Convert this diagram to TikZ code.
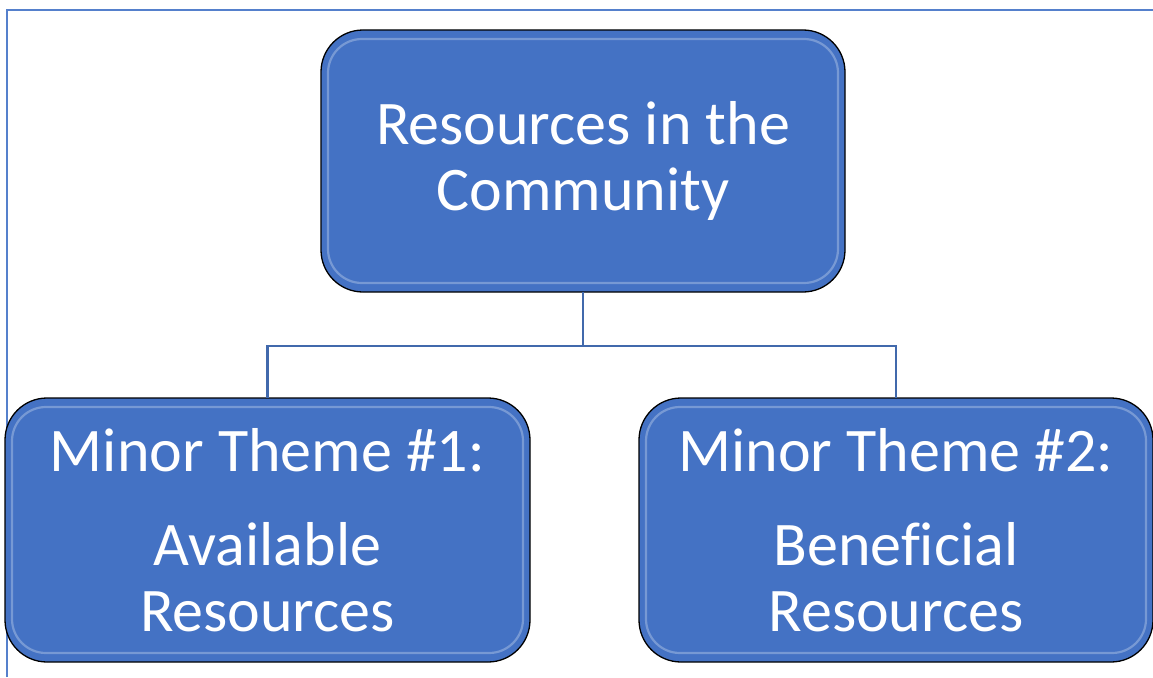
\documentclass[tikz,border=0pt]{standalone}
\usepackage{fontspec}
\setmainfont{Carlito}[Ligatures=NoCommon]
\usetikzlibrary{calc}
\definecolor{boxblue}{HTML}{4472C4}
\definecolor{linkblue}{HTML}{4169AC}
\definecolor{frameblue}{HTML}{5580CC}
\begin{document}
\begin{tikzpicture}
    [
        x=1pt, y=-1pt,
        theme/.style={rectangle, rounded corners=42pt, draw=black, line width=1.3pt,
            fill=boxblue, text=white, align=center, inner sep=0pt, outer sep=0pt,
            font=\fontsize{62}{66}\selectfont},
        glint/.style={draw=white!55!boxblue, line width=2.2pt, rounded corners=34pt, opacity=0.5},
        link/.style={draw=linkblue, line width=2.2pt,},
    ]
    \useasboundingbox (0,0) rectangle (1153,677);

    % frame
    \draw [draw=frameblue, line width=1.8pt] (7,677) -- (7,10) -- (1153,10);

    % boxes
    \node (top)    at (583,161)   [theme, minimum width=524pt, minimum height=262pt]
        {Resources in the\\Community};
    \node (minorA) at (267.5,530) [theme, minimum width=525pt, minimum height=264pt]
        {Minor Theme \#1:\\[28pt]Available\\Resources};
    \node (minorB) at (896,530)   [theme, minimum width=514pt, minimum height=264pt]
        {Minor Theme \#2:\\[28pt]Beneficial\\Resources};

    \foreach \n in {top,minorA,minorB}
        \draw [glint] ($(\n.north west)+(7,9)$) rectangle ($(\n.south east)+(-7,-9)$);

    % connectors
    \coordinate (split) at (583,346);
    \draw [link] (top.south) -- (split);
    \draw [link] (split) -| (minorA.north);
    \draw [link] (split) -| (minorB.north);

\end{tikzpicture}
\end{document}
